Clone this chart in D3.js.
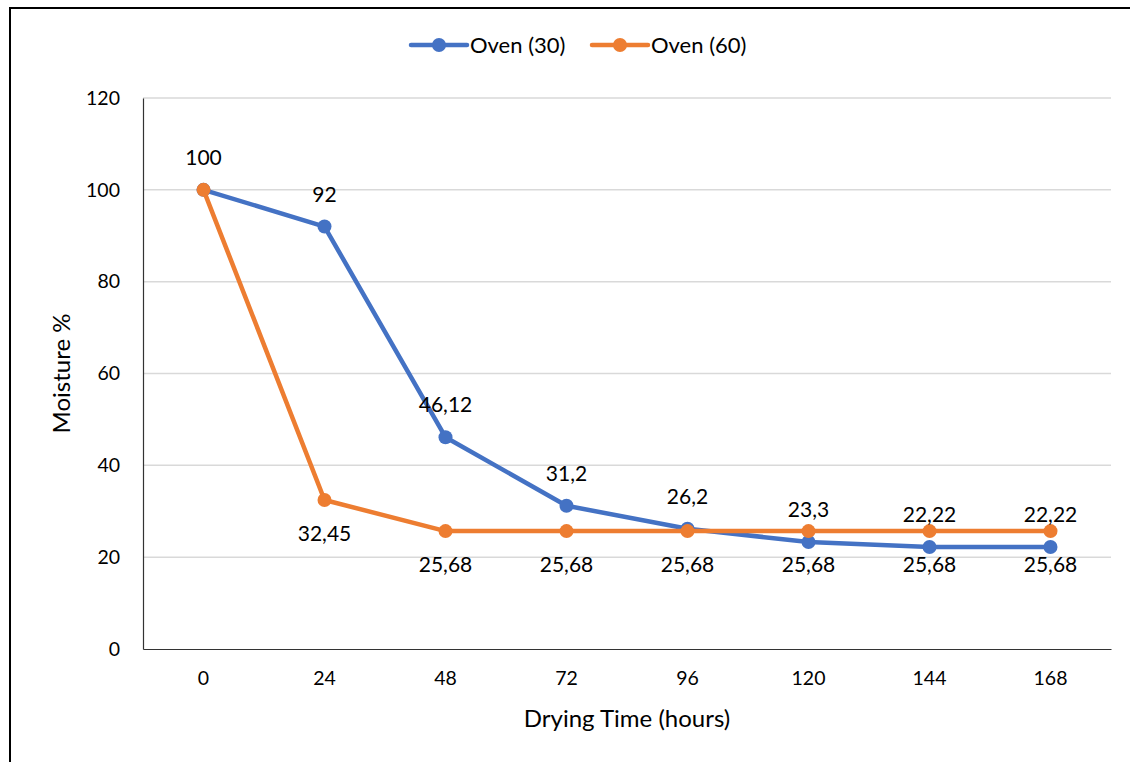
<!DOCTYPE html>
<html><head><meta charset="utf-8">
<script src="https://cdn.jsdelivr.net/npm/d3@7"></script>
<style>
body{margin:0;background:#fff;}
text{font-family:Lato, "Open Sans", sans-serif;fill:#000;}
</style></head>
<body>
<svg id="chart" width="1130" height="762"></svg>
<script>
const categories = ["0","24","48","72","96","120","144","168"];
const oven30 = [100, 92, 46.12, 31.2, 26.2, 23.3, 22.22, 22.22];
const oven60 = [100, 32.45, 25.68, 25.68, 25.68, 25.68, 25.68, 25.68];
const oven30Labels = ["100","92","46,12","31,2","26,2","23,3","22,22","22,22"];
const oven60Labels = ["","32,45","25,68","25,68","25,68","25,68","25,68","25,68"];
const yTicks = [0,20,40,60,80,100,120];
const seriesNames = ["Oven (30)","Oven (60)"];
const colors = ["#4472C4","#ED7D31"];

const svg = d3.select("#chart");
// outer border
svg.append("rect").attr("x",10).attr("y",8).attr("width",1130).attr("height",800)
  .attr("fill","none").attr("stroke","#000").attr("stroke-width",2);

const pL=143, pR=1111, pT=98, pB=649;
const x = d3.scaleBand().domain(categories).range([pL,pR]).padding(0);
const y = d3.scaleLinear().domain([0,120]).range([pB,pT]);
const cx = c => x(c)+x.bandwidth()/2;

// gridlines
svg.append("g").selectAll("line").data(yTicks.filter(d=>d>0)).join("line")
  .attr("x1",pL).attr("x2",pR).attr("y1",d=>y(d)).attr("y2",d=>y(d))
  .attr("stroke","#d9d9d9").attr("stroke-width",1.5);

// y axis
const ya = svg.append("g").attr("transform",`translate(${pL},0)`)
  .call(d3.axisLeft(y).tickValues(yTicks).tickSize(0).tickPadding(23));
ya.select(".domain").attr("stroke","#333").attr("stroke-width",1.2);
ya.selectAll("text").style("font-size","19.5px").style("font-family","Lato");

// x axis
const xa = svg.append("g").attr("transform",`translate(0,${pB})`)
  .call(d3.axisBottom(x).tickSize(0).tickPadding(22));
xa.select(".domain").attr("stroke","#333").attr("stroke-width",1.2);
xa.selectAll("text").style("font-size","19.5px").style("font-family","Lato");

// titles
svg.append("text").attr("x",(pL+pR)/2).attr("y",727).attr("text-anchor","middle")
  .style("font-size","24px").text("Drying Time (hours)");
svg.append("text").attr("transform",`translate(70,${(pT+pB)/2}) rotate(-90)`)
  .attr("text-anchor","middle").style("font-size","24px").text("Moisture %");

const line = d3.line().x((d,i)=>cx(categories[i])).y(d=>y(d));
[oven30, oven60].forEach((s,k)=>{
  const g = svg.append("g");
  g.append("path").datum(s).attr("d",line).attr("fill","none")
    .attr("stroke",colors[k]).attr("stroke-width",4.5).attr("stroke-linejoin","round");
  g.selectAll("circle").data(s).join("circle")
    .attr("cx",(d,i)=>cx(categories[i])).attr("cy",d=>y(d)).attr("r",7).attr("fill",colors[k]);
});

// data labels
svg.append("g").selectAll("text").data(oven30).join("text")
  .attr("x",(d,i)=>cx(categories[i])).attr("y",d=>y(d)-25).attr("text-anchor","middle")
  .style("font-size","21px").text((d,i)=>oven30Labels[i]);
svg.append("g").selectAll("text").data(oven60).join("text")
  .attr("x",(d,i)=>cx(categories[i])).attr("y",d=>y(d)+41).attr("text-anchor","middle")
  .style("font-size","21px").text((d,i)=>oven60Labels[i]);

// legend
const lg = svg.append("g");
const legX = [411, 592];
seriesNames.forEach((n,k)=>{
  lg.append("line").attr("x1",legX[k]).attr("x2",legX[k]+56).attr("y1",45).attr("y2",45)
    .attr("stroke",colors[k]).attr("stroke-width",4.5).attr("stroke-linecap","round");
  lg.append("circle").attr("cx",legX[k]+28).attr("cy",45).attr("r",7).attr("fill",colors[k]);
  lg.append("text").attr("x",legX[k]+59).attr("y",53).style("font-size","22px").text(n);
});
</script>
</body></html>
